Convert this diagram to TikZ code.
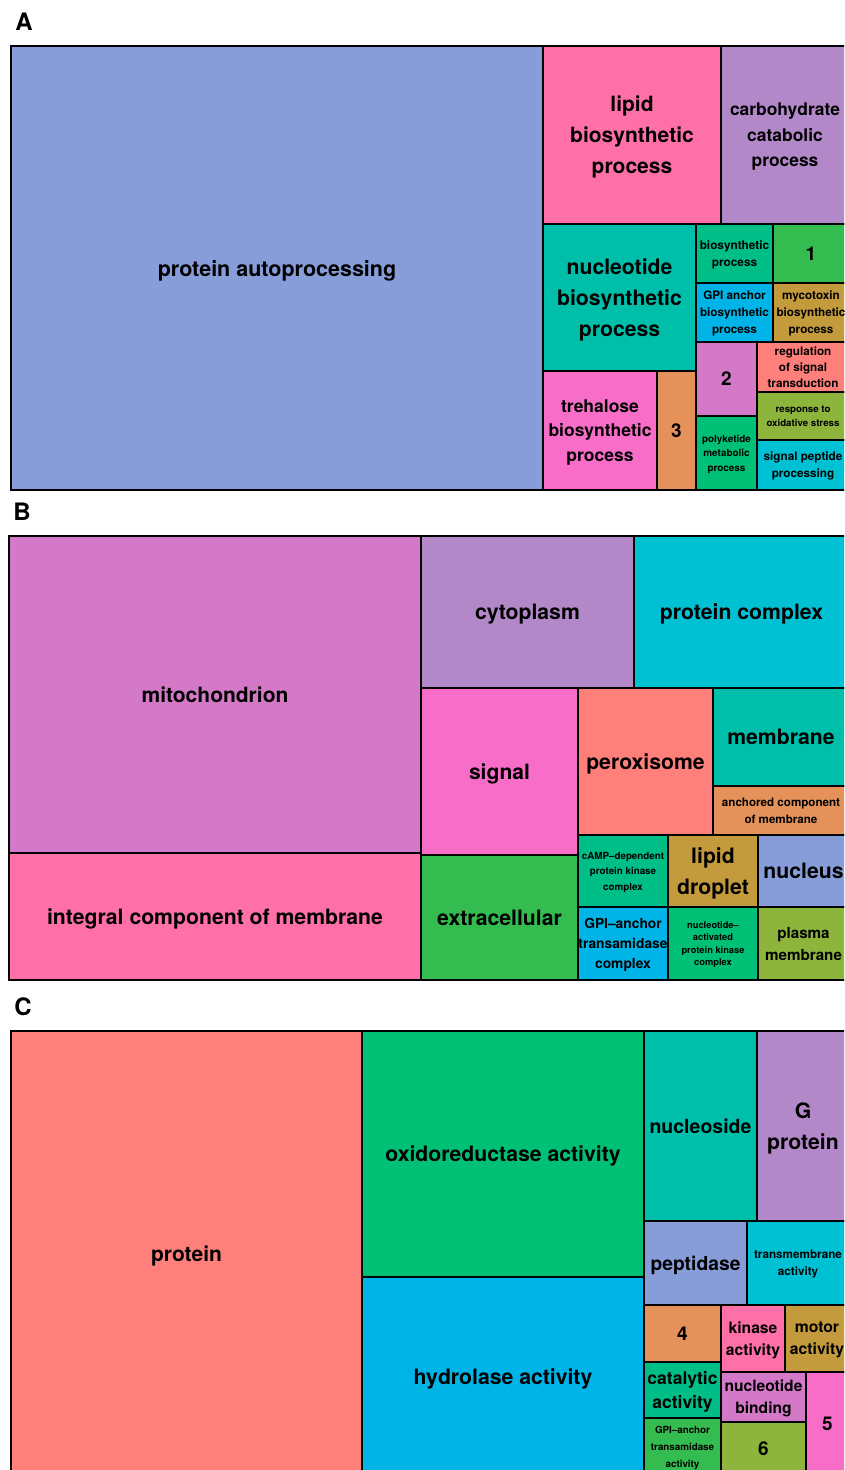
\documentclass[tikz,border=0pt]{standalone}
\usepackage{fontspec}
\setmainfont{TeX Gyre Heros}
\definecolor{cblue}{HTML}{879DDA}
\definecolor{cpinka}{HTML}{FF6FA8}
\definecolor{cpinkb}{HTML}{F86DC8}
\definecolor{clilac}{HTML}{B388C9}
\definecolor{cteal}{HTML}{00BFAA}
\definecolor{corange}{HTML}{E5925A}
\definecolor{cgteal}{HTML}{00BE88}
\definecolor{cgreen}{HTML}{35BC50}
\definecolor{cgreenb}{HTML}{00C076}
\definecolor{ccyanb}{HTML}{00B4E8}
\definecolor{cgold}{HTML}{C49B3C}
\definecolor{corchid}{HTML}{D479C7}
\definecolor{csalmon}{HTML}{FF7F7A}
\definecolor{colive}{HTML}{8DB53C}
\definecolor{ccyan}{HTML}{00C1D3}
\tikzset{
  cellsty/.style={inner sep=0pt, outer sep=0pt, align=center, text=black, text depth=0pt},
  border/.style={draw=black, line width=2.4pt, line join=miter},
  panellabel/.style={font=\fontsize{24}{28}\selectfont\bfseries, inner sep=0pt}
}
\newcommand\tmcell[9]{%
  \node[cellsty, fill=#6, minimum width={(#4-#2)*1pt}, minimum height={(#5-#3)*1pt},
        font=\fontsize{#7}{#8}\selectfont\bfseries] (#1) at ({(#2+#4)/2},{(#3+#5)/2}) {#9};}
\begin{document}
\begin{tikzpicture}[x=1pt,y=-1pt]
\useasboundingbox (0,0) rectangle (844,1470);
\clip (0,0) rectangle (844,1470);
\fill[white] (0,0) rectangle (844,1470);
% labels
\node[panellabel] (labA) at (24,22) {A};
\node[panellabel] (labB) at (22,512) {B};
\node[panellabel] (labC) at (23,1007) {C};
% ---------- Panel A
\tmcell{pa}{11}{46}{543}{490}{cblue}{21.5}{26}{protein autoprocessing}
\tmcell{lbp}{543}{46}{721}{224}{cpinka}{21}{31}{lipid\\biosynthetic\\process}
\tmcell{ccp}{721}{46}{849}{224}{clilac}{17.4}{25.5}{carbohydrate\\catabolic\\process}
\tmcell{nbp}{543}{224}{696}{371}{cteal}{21.2}{31}{nucleotide\\biosynthetic\\process}
\tmcell{tbp}{543}{371}{657}{490}{cpinkb}{17.5}{24.5}{trehalose\\biosynthetic\\process}
\tmcell{na3}{657}{371}{696}{490}{corange}{19}{23}{3}
\tmcell{bp}{696}{224}{773}{283}{cgteal}{11.8}{17}{biosynthetic\\process}
\tmcell{na1}{773}{224}{849}{283}{cgreen}{19}{23}{1}
\tmcell{gpi}{696}{283}{773}{342}{ccyanb}{11.7}{17}{GPI anchor\\biosynthetic\\process}
\tmcell{myc}{773}{283}{849}{342}{cgold}{11.7}{17}{mycotoxin\\biosynthetic\\process}
\tmcell{na2}{696}{342}{757}{416}{corchid}{19}{23}{2}
\tmcell{pmp}{696}{416}{757}{490}{cgreenb}{9.9}{14.5}{polyketide\\metabolic\\process}
\tmcell{rst}{757}{342}{849}{392}{csalmon}{11.7}{16}{regulation\\of signal\\transduction}
\tmcell{ros}{757}{392}{849}{440}{colive}{9.7}{14}{response to\\oxidative stress}
\tmcell{spp}{757}{440}{849}{490}{ccyan}{11.7}{17}{signal peptide\\processing}
% ---------- Panel B
\tmcell{mito}{9}{536}{421}{853}{corchid}{21}{26}{mitochondrion}
\tmcell{icm}{9}{853}{421}{980}{cpinka}{21.2}{26}{integral component of membrane}
\tmcell{cyto}{421}{536}{634}{688}{clilac}{21.2}{26}{cytoplasm}
\tmcell{pc}{634}{536}{849}{688}{ccyan}{21.2}{26}{protein complex}
\tmcell{sig}{421}{688}{578}{855}{cpinkb}{21.1}{26}{signal}
\tmcell{ext}{421}{855}{578}{980}{cgreen}{21.2}{26}{extracellular}
\tmcell{perox}{578}{688}{713}{835}{csalmon}{21.2}{26}{peroxisome}
\tmcell{memb}{713}{688}{849}{786}{cteal}{21.2}{26}{membrane}
\tmcell{acm}{713}{786}{849}{835}{corange}{11.6}{17}{anchored component\\of membrane}
\tmcell{camp}{578}{835}{668}{907}{cgteal}{9.8}{15.5}{cAMP–dependent\\protein kinase\\complex}
\tmcell{ld}{668}{835}{758}{907}{cgold}{21.2}{31}{lipid\\droplet}
\tmcell{nuc}{758}{835}{849}{907}{cblue}{21.2}{26}{nucleus}
\tmcell{gpic}{578}{907}{668}{980}{ccyanb}{13.8}{20}{GPI–anchor\\transamidase\\complex}
\tmcell{napk}{668}{907}{758}{980}{cgreenb}{9.3}{12.3}{nucleotide–\\activated\\protein kinase\\complex}
\tmcell{pm}{758}{907}{849}{980}{colive}{15.2}{22}{plasma\\membrane}
% ---------- Panel C
\tmcell{prot}{11}{1031}{362}{1476}{csalmon}{21}{26}{protein}
\tmcell{oxr}{362}{1031}{644}{1277}{cgreenb}{21.2}{26}{oxidoreductase activity}
\tmcell{hyd}{362}{1277}{644}{1476}{ccyanb}{21.2}{26}{hydrolase activity}
\tmcell{nucs}{644}{1031}{757}{1221}{cteal}{19.5}{26}{nucleoside}
\tmcell{gp}{757}{1031}{849}{1221}{clilac}{21.2}{31}{G\\protein}
\tmcell{pep}{644}{1221}{747}{1305}{cblue}{19.3}{24}{peptidase}
\tmcell{tma}{747}{1221}{849}{1305}{ccyan}{11.7}{17}{transmembrane\\activity}
\tmcell{nc4}{644}{1305}{721}{1362}{corange}{19}{23}{4}
\tmcell{cat}{644}{1362}{721}{1418}{cgteal}{17.5}{24}{catalytic\\activity}
\tmcell{gpia}{644}{1418}{721}{1476}{cgreen}{9.8}{17}{GPI–anchor\\transamidase\\activity}
\tmcell{kin}{721}{1305}{785}{1372}{cpinka}{15.7}{22}{kinase\\activity}
\tmcell{mot}{785}{1305}{849}{1372}{cgold}{15.7}{22}{motor\\activity}
\tmcell{nb}{721}{1372}{806}{1422}{corchid}{15.6}{22}{nucleotide\\binding}
\tmcell{nc6}{721}{1422}{806}{1476}{colive}{19}{23}{6}
\tmcell{nc5}{806}{1372}{849}{1476}{cpinkb}{19}{23}{5}
% ---------- borders
\foreach \n in {pa,lbp,ccp,nbp,tbp,na3,bp,na1,gpi,myc,na2,pmp,rst,ros,spp,
                mito,icm,cyto,pc,sig,ext,perox,memb,acm,camp,ld,nuc,gpic,napk,pm,
                prot,oxr,hyd,nucs,gp,pep,tma,nc4,cat,gpia,kin,mot,nb,nc6,nc5}
  \draw[border] (\n.south west) rectangle (\n.north east);
\end{tikzpicture}
\end{document}
